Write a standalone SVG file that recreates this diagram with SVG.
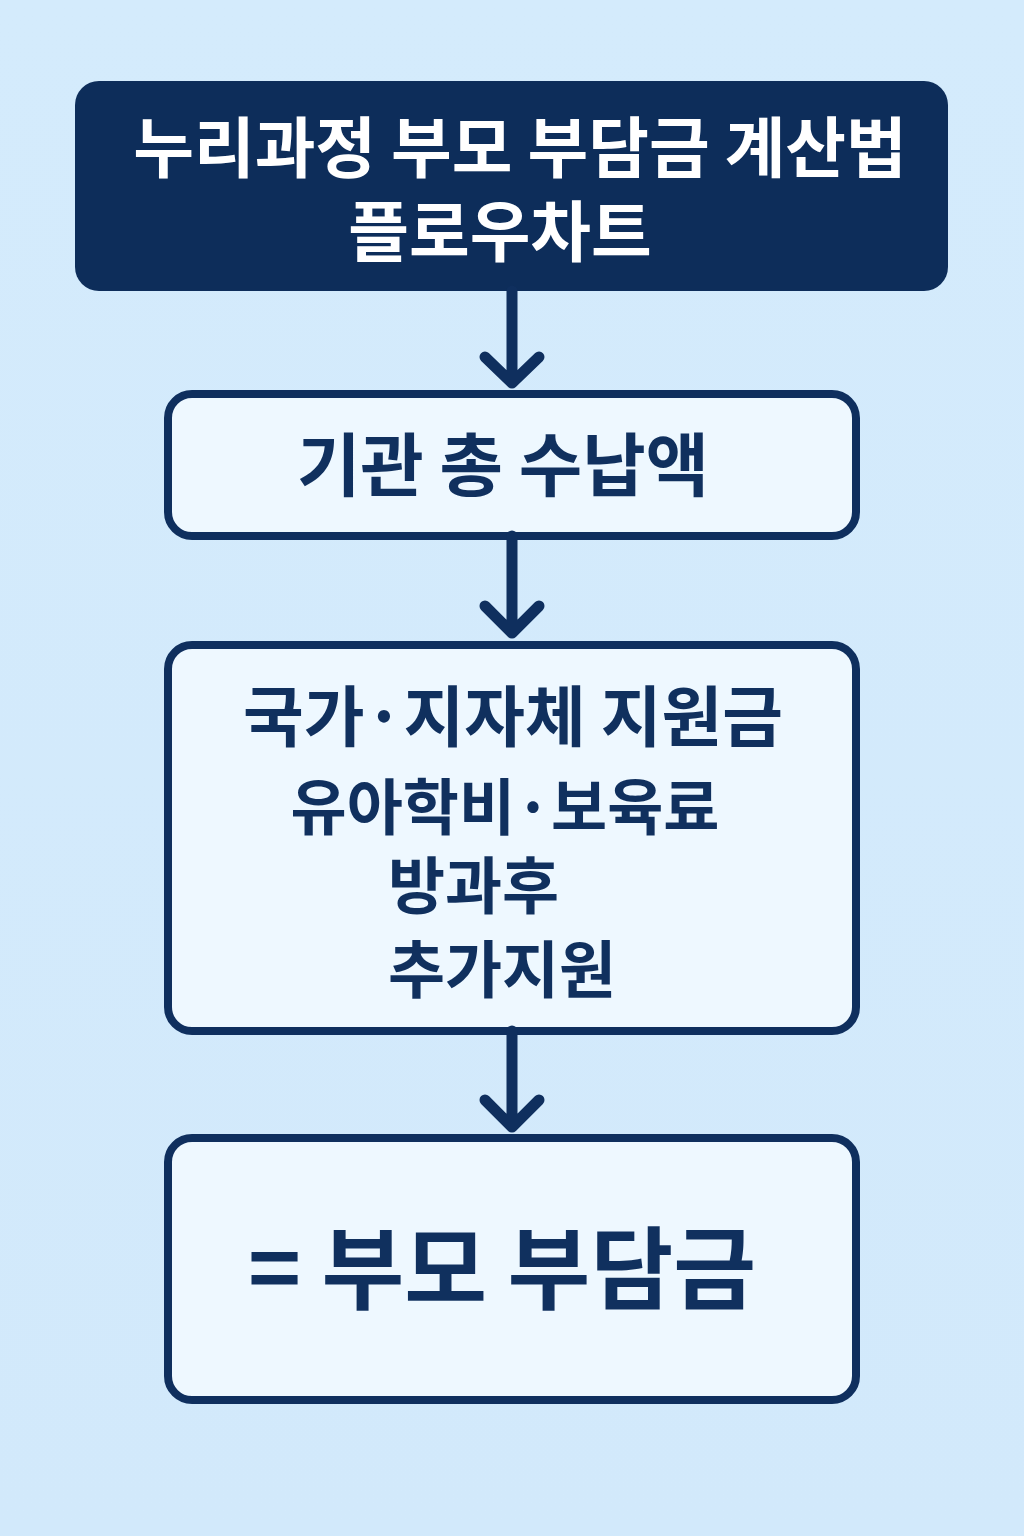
<svg xmlns="http://www.w3.org/2000/svg" width="1024" height="1536" viewBox="0 0 1024 1536">
<defs>
<linearGradient id="bg" x1="0" y1="0" x2="0" y2="1">
<stop offset="0" stop-color="#d4ebfc"/>
<stop offset="1" stop-color="#d2e9fb"/>
</linearGradient>
<style>
.box{fill:#eef8ff;stroke:#0f2f5e;stroke-width:8}
.t{font-family:"Noto Sans CJK KR","Noto Sans",sans-serif;font-weight:700;fill:#10305e}
.w{fill:#ffffff}
.conn{stroke:#0f2f5e;stroke-width:11;fill:none;stroke-linecap:round;stroke-linejoin:round}
</style>
</defs>
<rect width="1024" height="1536" fill="url(#bg)"/>
<g id="title">
<rect x="75" y="81" width="873" height="210" rx="24" fill="#0d2d5a"/>
<text class="t w" x="520" y="172" font-size="66" text-anchor="middle">누리과정 부모 부담금 계산법</text>
<text class="t w" x="500" y="256" font-size="66" text-anchor="middle">플로우차트</text>
</g>
<g id="total">
<rect class="box" x="168" y="394" width="688" height="142" rx="24"/>
<text class="t" x="503" y="491" font-size="69" text-anchor="middle">기관 총 수납액</text>
</g>
<g id="support">
<rect class="box" x="168" y="645" width="688" height="386" rx="24"/>
<text class="t" x="513" y="741" font-size="66" text-anchor="middle">국가·지자체 지원금</text>
<text class="t" x="505" y="830" font-size="61" text-anchor="middle">유아학비·보육료</text>
<text class="t" x="388" y="909" font-size="62">방과후</text>
<text class="t" x="388" y="993" font-size="62">추가지원</text>
</g>
<g id="result">
<rect class="box" x="168" y="1138" width="688" height="262" rx="24"/>
<text class="t" x="502" y="1302" font-size="90" text-anchor="middle">= 부모 부담금</text>
</g>
<g id="connectors">
<path class="conn" d="M512 291 V382 M485 357 L512 383 L539 357"/>
<path class="conn" d="M512 536 V632 M485 606 L512 633 L539 606"/>
<path class="conn" d="M512 1031 V1126 M485 1100 L512 1127 L539 1100"/>
</g>
</svg>
